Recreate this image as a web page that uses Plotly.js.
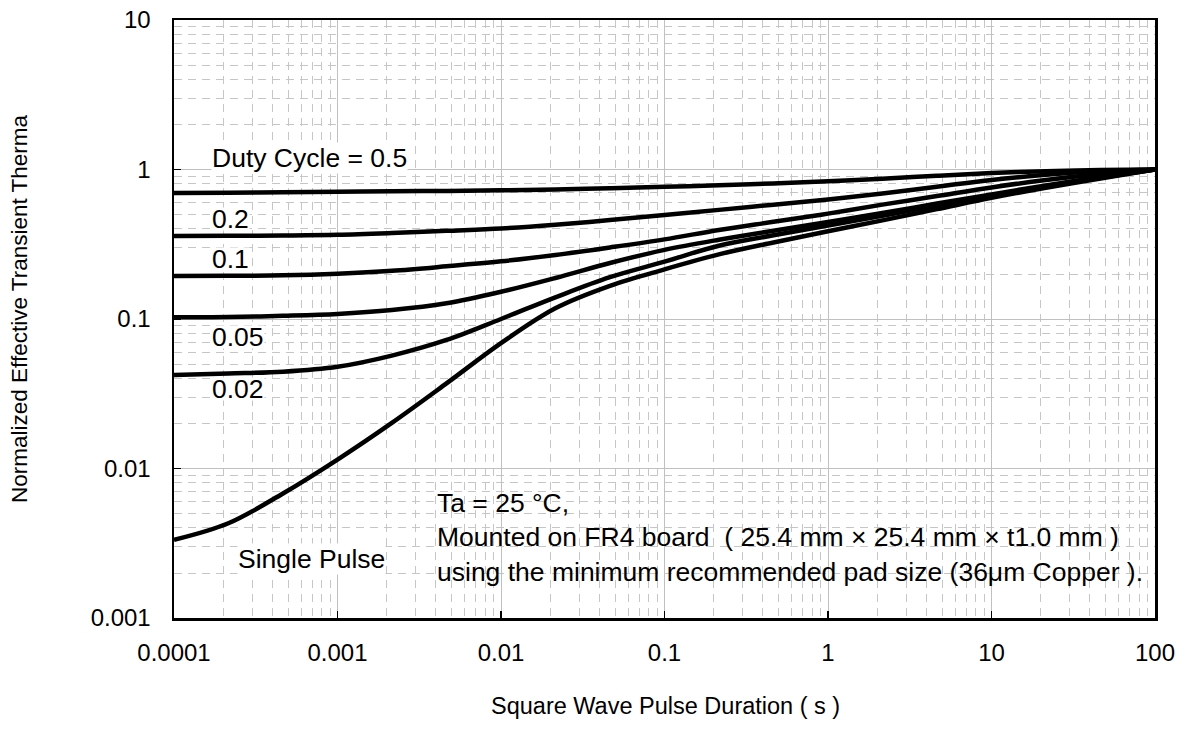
<!DOCTYPE html>
<html>
<head>
<meta charset="utf-8">
<script src="https://cdn.plot.ly/plotly-3.0.1.min.js"></script>
<style>
  html, body { margin: 0; padding: 0; background: #ffffff; }
  #chart { width: 1186px; height: 751px; }
</style>
</head>
<body>
<div id="chart"></div>
<script>
// Pulse duration (s), three points per decade
const pulseDuration = [1e-4, 2.15e-4, 4.64e-4, 1e-3, 2.15e-3, 4.64e-3, 0.01, 0.0215, 0.0464,
                       0.1, 0.215, 0.464, 1, 2.15, 4.64, 10, 21.5, 46.4, 100];

// Normalized effective transient thermal impedance
const duty050 = [0.697, 0.700, 0.705, 0.710, 0.715, 0.719, 0.726, 0.736, 0.750, 0.766,
                 0.785, 0.807, 0.834, 0.867, 0.908, 0.946, 0.975, 0.993, 1.0];
const duty020 = [0.359, 0.360, 0.362, 0.366, 0.376, 0.389, 0.403, 0.427, 0.459, 0.496,
                 0.537, 0.582, 0.631, 0.692, 0.767, 0.851, 0.923, 0.973, 1.0];
const duty010 = [0.194, 0.1945, 0.196, 0.201, 0.210, 0.225, 0.243, 0.268, 0.301, 0.341,
                 0.394, 0.447, 0.507, 0.582, 0.665, 0.759, 0.851, 0.933, 1.0];
const duty005 = [0.1026, 0.1030, 0.1050, 0.1081, 0.1148, 0.1274, 0.152, 0.188, 0.237, 0.290,
                 0.339, 0.389, 0.445, 0.511, 0.592, 0.682, 0.783, 0.891, 1.0];
const duty002 = [0.0422, 0.0432, 0.0444, 0.0479, 0.0569, 0.0724, 0.1000, 0.1396, 0.1905, 0.242,
                 0.309, 0.363, 0.422, 0.490, 0.572, 0.664, 0.769, 0.881, 1.0];
const singlePulse = [0.00333, 0.00430, 0.00681, 0.01148, 0.0202, 0.0371, 0.0690, 0.118, 0.1667, 0.2148,
                     0.2704, 0.325, 0.386, 0.457, 0.543, 0.646, 0.755, 0.871, 1.0];

const seriesList = [duty050, duty020, duty010, duty005, duty002, singlePulse];
const seriesNames = ['Duty Cycle = 0.5', '0.2', '0.1', '0.05', '0.02', 'Single Pulse'];

// Tick labels
const xTickVals = [1e-4, 1e-3, 1e-2, 0.1, 1, 10, 100];
const xTickText = ['0.0001', '0.001', '0.01', '0.1', '1', '10', '100'];
const yTickVals = [0.001, 0.01, 0.1, 1, 10];
const yTickText = ['0.001', '0.01', '0.1', '1', '10'];

function minorVals(lo, hi) {
  const out = [];
  for (let e = lo; e < hi; e++) {
    for (let d = 2; d <= 9; d++) out.push(d * Math.pow(10, e));
  }
  return out;
}

const FONT = 'Liberation Sans, Arial, sans-serif';

const traces = seriesList.map((ys, i) => ({
  type: 'scatter',
  mode: 'lines',
  name: seriesNames[i],
  x: pulseDuration,
  y: ys,
  line: { color: '#000000', width: 4.5, shape: 'spline', smoothing: 1 },
  hoverinfo: 'x+y+name'
}));

const gridMinor = '#c6c6c6';
const gridMajor = '#c0c0c0';

const axisCommon = {
  type: 'log',
  showline: true,
  linecolor: '#000000',
  linewidth: 2.5,
  mirror: true,
  ticks: 'inside',
  ticklen: 7,
  tickwidth: 1.5,
  tickcolor: '#000000',
  showgrid: true,
  gridcolor: gridMajor,
  gridwidth: 1,
  zeroline: false,
  tickmode: 'array',
  tickfont: { family: FONT, size: 24, color: '#000000' }
};

const labelAnn = (text, x, y, h) => {
  const a = {
    text: text, x: x, y: y, xref: 'paper', yref: 'paper',
    xanchor: 'left', yanchor: 'middle', showarrow: false,
    bgcolor: '#ffffff', borderpad: 0,
    font: { family: FONT, size: 26.5, color: '#000000' }
  };
  if (h) { a.height = h; a.valign = 'middle'; }
  return a;
};

const layout = {
  width: 1186,
  height: 751,
  margin: { l: 174, r: 31, t: 20, b: 133 },
  paper_bgcolor: '#ffffff',
  plot_bgcolor: '#ffffff',
  showlegend: false,
  font: { family: FONT, color: '#000000' },
  xaxis: Object.assign({}, axisCommon, {
    range: [-4, 2],
    tickvals: xTickVals,
    ticktext: xTickText,
    ticklabelstandoff: 12,
    minor: {
      tickmode: 'array',
      tickvals: minorVals(-4, 2),
      ticks: '',
      showgrid: true,
      gridcolor: gridMinor,
      gridwidth: 1,
      griddash: '8px,6px'
    }
  }),
  yaxis: Object.assign({}, axisCommon, {
    range: [-3, 1],
    tickvals: yTickVals,
    ticktext: yTickText,
    ticklabelstandoff: 16,
    minor: {
      tickmode: 'array',
      tickvals: minorVals(-3, 1),
      ticks: '',
      showgrid: true,
      gridcolor: gridMinor,
      gridwidth: 1,
      griddash: '8px,6px'
    }
  }),
  annotations: [
    labelAnn('Duty Cycle = 0.5', 0.0375, 0.7684),
    labelAnn('0.2', 0.0375, 0.6672, 22),
    labelAnn('0.1', 0.0375, 0.6003, 22),
    labelAnn('0.05', 0.0375, 0.4704, 22),
    labelAnn('0.02', 0.0375, 0.3829, 22),
    labelAnn('Single Pulse', 0.0645, 0.0987),
    {
      xref: 'paper', yref: 'paper', x: 0.266, y: (618 - 537) / 598,
      xanchor: 'left', yanchor: 'middle', align: 'left', showarrow: false,
      text: 'Ta = 25 °C,<br>Mounted on FR4 board &nbsp;( 25.4 mm × 25.4 mm × t1.0 mm )<br>using the minimum recommended pad size (36μm Copper ).',
      font: { family: FONT, size: 26.5, color: '#000000' }
    },
    {
      xref: 'paper', yref: 'paper', x: (19 - 174) / 981, y: (618 - 309) / 598,
      xanchor: 'center', yanchor: 'middle', textangle: -90, showarrow: false,
      text: 'Normalized Effective Transient Therma',
      font: { family: FONT, size: 22.5, color: '#000000' }
    },
    {
      xref: 'paper', yref: 'paper', x: (665 - 174) / 981, y: (618 - 706) / 598,
      xanchor: 'center', yanchor: 'middle', showarrow: false,
      text: 'Square Wave Pulse Duration ( s )',
      font: { family: FONT, size: 23.5, color: '#000000' }
    }
  ]
};

Plotly.newPlot('chart', traces, layout, { displayModeBar: false, staticPlot: true });
</script>
</body>
</html>
